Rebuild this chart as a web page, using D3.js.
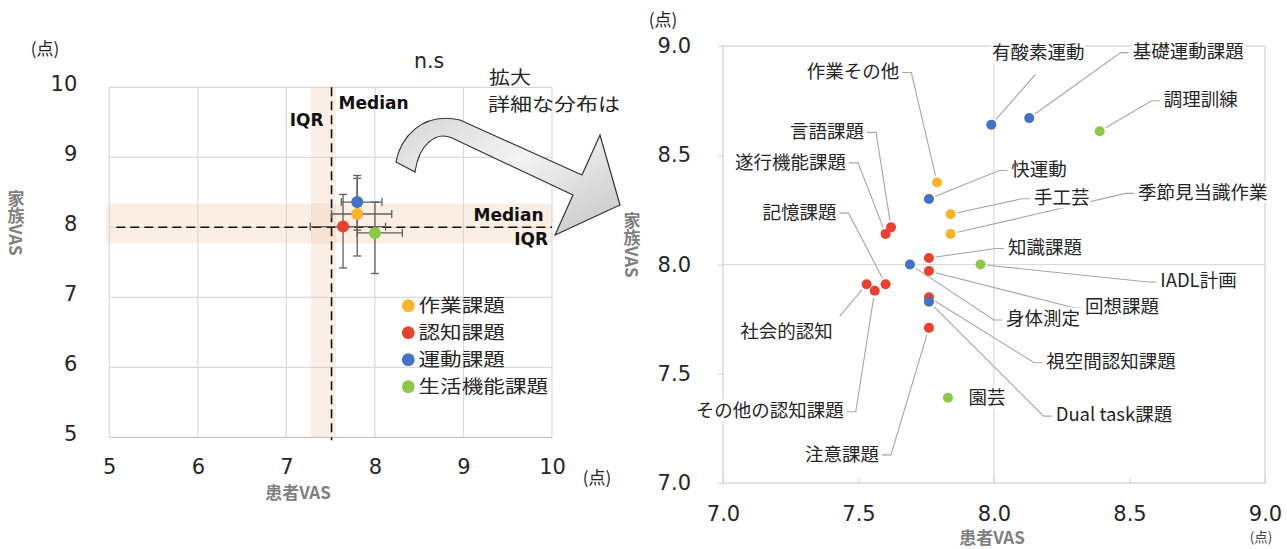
<!DOCTYPE html>
<html>
<head>
<meta charset="utf-8">
<script src="https://cdn.jsdelivr.net/npm/d3@7"></script>
<style>
  html, body { margin: 0; padding: 0; background: #fff; }
  svg { display: block; }
</style>
</head>
<body>
<svg id="chart" width="1287" height="549"></svg>
<script>
// ---------- 課題群ごとの平均とばらつき（左の図） ----------
const groupNames = ["作業課題", "認知課題", "運動課題", "生活機能課題"];
const groupPatient = [7.80, 7.64, 7.80, 8.00];
const groupFamily = [8.19, 8.01, 8.36, 7.92];
const groupPatientLow = [7.51, 7.27, 7.62, 7.80];
const groupPatientHigh = [8.19, 8.12, 8.08, 8.31];
const groupFamilyLow = [7.59, 7.42, 7.96, 7.34];
const groupFamilyHigh = [8.70, 8.47, 8.74, 8.36];

const patientMedian = 7.51;
const familyMedian = 8.00;
const patientIQR = [7.28, 7.56];
const familyIQR = [7.77, 8.34];

const leftTicks = [5, 6, 7, 8, 9, 10];

// ---------- 課題ごとの平均（右の拡大図） ----------
const taskNames = [
  "有酸素運動", "基礎運動課題", "調理訓練", "作業その他", "快運動",
  "手工芸", "季節見当識作業", "言語課題", "遂行機能課題", "記憶課題",
  "知識課題", "身体測定", "IADL計画", "回想課題", "社会的認知",
  "その他の認知課題", "視空間認知課題", "Dual task課題", "注意課題", "園芸"
];
// groupNames の添字
const taskGroup = [2, 2, 3, 0, 2, 0, 0, 1, 1, 1, 1, 2, 3, 1, 1, 1, 1, 2, 1, 3];
const taskPatient = [7.99, 8.13, 8.39, 7.79, 7.76, 7.84, 7.84, 7.62, 7.60, 7.60,
                     7.76, 7.69, 7.95, 7.76, 7.53, 7.56, 7.76, 7.76, 7.76, 7.83];
const taskFamily = [8.64, 8.67, 8.61, 8.375, 8.30, 8.23, 8.14, 8.17, 8.14, 7.91,
                    8.03, 8.00, 8.00, 7.97, 7.91, 7.88, 7.85, 7.83, 7.71, 7.39];

const rightTicks = [7.0, 7.5, 8.0, 8.5, 9.0];

// ---------- 見た目の設定 ----------
const groupColors = ["#F9B52A", "#E9412F", "#4472C4", "#8CC845"];

// ラベルの配置（点からのずれ[px]と引き出し線の向き）
const labelLayout = {
  "有酸素運動":       { dx: 47, dy: -72, side: "b" },
  "基礎運動課題":     { dx: 159, dy: -67, side: "l" },
  "調理訓練":         { dx: 101, dy: -32, side: "l" },
  "作業その他":       { dx: -84, dy: -111, side: "r" },
  "快運動":           { dx: 110, dy: -30, side: "l" },
  "手工芸":           { dx: 111, dy: -17, side: "l" },
  "季節見当識作業":   { dx: 252, dy: -42, side: "l" },
  "言語課題":         { dx: -64, dy: -96, side: "r" },
  "遂行機能課題":     { dx: -95, dy: -72, side: "r" },
  "記憶課題":         { dx: -86, dy: -72, side: "r" },
  "知識課題":         { dx: 116, dy: -11, side: "l" },
  "身体測定":         { dx: 133, dy: 54, side: "l" },
  "IADL計画":         { dx: 218, dy: 16, side: "l" },
  "回想課題":         { dx: 193, dy: 35, side: "l" },
  "社会的認知":       { dx: -80, dy: 47, side: "tr" },
  "その他の認知課題": { dx: -105, dy: 120, side: "r" },
  "視空間認知課題":   { dx: 182, dy: 64, side: "l" },
  "Dual task課題":    { dx: 185, dy: 113, side: "l" },
  "注意課題":         { dx: -87, dy: 126, side: "r" },
  "園芸":             { dx: 39, dy: 0, side: "none" }
};

const numFont = "'DejaVu Sans', Verdana, sans-serif";
const jpFont = "'Noto Sans CJK JP', 'Noto Sans', sans-serif";
const textColor = "#262626";
const titleColor = "#808080";
const gridColor = "#d9d9d9";
const tickFontSize = 21;

const svg = d3.select("#chart");

// 縦書きの軸タイトル（漢字は正立、英字は回転）
function verticalTitle(g, x, yTop, txt, size) {
  g.append("text")
    .attr("x", x).attr("y", yTop)
    .attr("text-anchor", "start")
    .style("writing-mode", "vertical-rl")
    .style("text-orientation", "mixed")
    .attr("font-family", jpFont).attr("font-weight", "bold")
    .attr("font-size", size).attr("fill", titleColor)
    .text(txt);
}

// 横幅を指定した日本語テキスト（字形を横に伸ばす）
function wideText(g, x, y, txt, size, perChar) {
  return g.append("text").attr("x", x).attr("y", y)
    .attr("font-family", jpFont).attr("font-size", size).attr("fill", textColor)
    .attr("textLength", perChar * txt.length).attr("lengthAdjust", "spacingAndGlyphs")
    .text(txt);
}

// ================= 左：課題群の散布図 =================
const xL = d3.scaleLinear().domain([5, 10]).range([109.3, 552]);
const yL = d3.scaleLinear().domain([5, 10]).range([437.3, 87.3]);
const gL = svg.append("g");

// グリッド
gL.append("g").selectAll("line").data(leftTicks).join("line")
  .attr("x1", d => xL(d)).attr("x2", d => xL(d))
  .attr("y1", yL(10)).attr("y2", yL(5))
  .attr("stroke", gridColor).attr("stroke-width", 1.2);
gL.append("g").selectAll("line").data(leftTicks).join("line")
  .attr("x1", xL(5)).attr("x2", xL(10))
  .attr("y1", d => yL(d)).attr("y2", d => yL(d))
  .attr("stroke", d => d === 5 ? "#c8c8c8" : gridColor).attr("stroke-width", 1.2);

// IQR の帯
const bandFill = "rgb(240,205,180)";
gL.append("rect")
  .attr("x", xL(patientIQR[0])).attr("width", xL(patientIQR[1]) - xL(patientIQR[0]))
  .attr("y", yL(10)).attr("height", yL(5) - yL(10))
  .attr("fill", bandFill).attr("fill-opacity", 0.35);
gL.append("rect")
  .attr("x", xL(5) - 3).attr("width", xL(10) - xL(5) + 3)
  .attr("y", yL(familyIQR[1])).attr("height", yL(familyIQR[0]) - yL(familyIQR[1]))
  .attr("fill", bandFill).attr("fill-opacity", 0.35);

// 中央値の破線
gL.append("line")
  .attr("x1", xL(5) + 7).attr("x2", xL(10))
  .attr("y1", yL(familyMedian)).attr("y2", yL(familyMedian))
  .attr("stroke", "#111").attr("stroke-width", 1.6).attr("stroke-dasharray", "9,5");
gL.append("line")
  .attr("x1", xL(patientMedian)).attr("x2", xL(patientMedian))
  .attr("y1", yL(10)).attr("y2", yL(5) + 3)
  .attr("stroke", "#111").attr("stroke-width", 1.6).attr("stroke-dasharray", "9,5");

// 誤差線
const errColor = "#5f5f5f";
const cap = 4;
const gErr = gL.append("g").attr("stroke", errColor).attr("stroke-width", 1.3);
groupNames.forEach((name, i) => {
  const cx = xL(groupPatient[i]), cy = yL(groupFamily[i]);
  const x0 = xL(groupPatientLow[i]), x1 = xL(groupPatientHigh[i]);
  const y0 = yL(groupFamilyLow[i]), y1 = yL(groupFamilyHigh[i]);
  gErr.append("line").attr("x1", x0).attr("x2", x1).attr("y1", cy).attr("y2", cy);
  gErr.append("line").attr("x1", x0).attr("x2", x0).attr("y1", cy - cap).attr("y2", cy + cap);
  gErr.append("line").attr("x1", x1).attr("x2", x1).attr("y1", cy - cap).attr("y2", cy + cap);
  gErr.append("line").attr("x1", cx).attr("x2", cx).attr("y1", y0).attr("y2", y1);
  gErr.append("line").attr("x1", cx - cap).attr("x2", cx + cap).attr("y1", y0).attr("y2", y0);
  gErr.append("line").attr("x1", cx - cap).attr("x2", cx + cap).attr("y1", y1).attr("y2", y1);
});

// 平均点（運動課題は最前面）
const drawOrder = [0, 1, 3, 2];
gL.append("g").selectAll("circle").data(drawOrder).join("circle")
  .attr("cx", i => xL(groupPatient[i])).attr("cy", i => yL(groupFamily[i]))
  .attr("r", 6).attr("fill", i => groupColors[i]);

// 軸の目盛ラベル
const axLY = gL.append("g").attr("transform", `translate(${xL(5)},0)`)
  .call(d3.axisLeft(yL).tickValues(leftTicks).tickSize(0).tickPadding(32).tickFormat(d3.format("d")));
const axLX = gL.append("g").attr("transform", `translate(0,${yL(5)})`)
  .call(d3.axisBottom(xL).tickValues(leftTicks).tickSize(0).tickPadding(22).tickFormat(d3.format("d")));
[axLY, axLX].forEach(ax => {
  ax.select(".domain").remove();
  ax.selectAll("text").attr("font-family", numFont).attr("font-size", tickFontSize).attr("fill", textColor);
});
axLY.selectAll("text").attr("y", -3.5);

// 単位・軸タイトル
gL.append("text").attr("x", 45).attr("y", 49).attr("dy", "0.36em")
  .attr("text-anchor", "middle").attr("font-family", jpFont).attr("font-size", 17)
  .attr("fill", textColor).text("(点)");
gL.append("text").attr("x", 597).attr("y", 478).attr("dy", "0.36em")
  .attr("text-anchor", "middle").attr("font-family", jpFont).attr("font-size", 17)
  .attr("fill", textColor).text("(点)");
gL.append("text").attr("x", 298).attr("y", 493).attr("dy", "0.36em")
  .attr("text-anchor", "middle").attr("font-family", jpFont).attr("font-weight", "bold")
  .attr("font-size", 17).attr("fill", titleColor).text("患者VAS");
verticalTitle(gL, 16, 190, "家族VAS", 17);

// Median / IQR の注記
function note(x, y, anchor, txt) {
  gL.append("text").attr("x", x).attr("y", y).attr("text-anchor", anchor)
    .attr("font-family", numFont).attr("font-weight", "bold")
    .attr("font-size", 17).attr("fill", "#111").text(txt);
}
note(xL(patientMedian) + 7, 109, "start", "Median");
note(xL(patientMedian) - 8, 125.5, "end", "IQR");
note(xL(10) - 8.5, yL(familyMedian) - 6, "end", "Median");
note(xL(10) - 4, yL(familyMedian) + 17.5, "end", "IQR");

// 検定結果
gL.append("text").attr("x", 429).attr("y", 68).attr("text-anchor", "middle")
  .attr("font-family", numFont).attr("font-size", 20.5).attr("fill", textColor).text("n.s");

// 凡例
const legend = gL.append("g");
groupNames.forEach((name, i) => {
  const y = 305.7 + i * 27;
  legend.append("circle").attr("cx", 408.3).attr("cy", y).attr("r", 6.4).attr("fill", groupColors[i]);
  wideText(legend, 418.5, y, name, 18.5, 21.6).attr("dy", "0.36em");
});

// ================= 拡大を示す矢印 =================
const defs = svg.append("defs");
const grad = defs.append("linearGradient").attr("id", "arrowFill")
  .attr("x1", "0%").attr("y1", "0%").attr("x2", "100%").attr("y2", "100%");
grad.append("stop").attr("offset", "0%").attr("stop-color", "#d6d6d6");
grad.append("stop").attr("offset", "45%").attr("stop-color", "#f3f3f3");
grad.append("stop").attr("offset", "100%").attr("stop-color", "#c4c4c4");

svg.append("path")
  .attr("d", "M396,162 C400,140 420,111 460,120 L582,175 L600,135 L620,205 L555,235 L573,195 L452,138 C436,131 419,144 415,172 Z")
  .attr("fill", "url(#arrowFill)").attr("stroke", "#333").attr("stroke-width", 1.2)
  .attr("stroke-linejoin", "miter");

wideText(svg, 489, 78, "拡大", 17.8, 21).attr("dy", "0.36em");
wideText(svg, 488, 104.5, "詳細な分布は", 17.8, 22).attr("dy", "0.36em");

// ================= 右：課題ごとの散布図 =================
const xR = d3.scaleLinear().domain([7, 9]).range([723, 1265]);
const yR = d3.scaleLinear().domain([7, 9]).range([483, 46]);
const gR = svg.append("g");

// 枠と 8.0 のグリッド
gR.append("rect").attr("x", xR(7)).attr("y", yR(9))
  .attr("width", xR(9) - xR(7)).attr("height", yR(7) - yR(9))
  .attr("fill", "none").attr("stroke", "#cfcfcf").attr("stroke-width", 1.2);
gR.append("line").attr("x1", xR(8)).attr("x2", xR(8)).attr("y1", yR(9)).attr("y2", yR(7))
  .attr("stroke", gridColor).attr("stroke-width", 1.2);
gR.append("line").attr("x1", xR(7)).attr("x2", xR(9)).attr("y1", yR(8)).attr("y2", yR(8))
  .attr("stroke", gridColor).attr("stroke-width", 1.2);

const axRY = gR.append("g").attr("transform", `translate(${xR(7)},0)`)
  .call(d3.axisLeft(yR).tickValues(rightTicks).tickSizeInner(5).tickSizeOuter(0)
    .tickPadding(27).tickFormat(d3.format(".1f")));
const axRX = gR.append("g").attr("transform", `translate(0,${yR(7)})`)
  .call(d3.axisBottom(xR).tickValues(rightTicks).tickSizeInner(-5).tickSizeOuter(0)
    .tickPadding(23).tickFormat(d3.format(".1f")));
[axRY, axRX].forEach(ax => {
  ax.select(".domain").remove();
  ax.selectAll("line").attr("stroke", "#cfcfcf");
  ax.selectAll("text").attr("font-family", numFont).attr("font-size", tickFontSize).attr("fill", textColor);
});

gR.append("text").attr("x", 663).attr("y", 20).attr("dy", "0.36em")
  .attr("text-anchor", "middle").attr("font-family", jpFont).attr("font-size", 17)
  .attr("fill", textColor).text("(点)");
gR.append("text").attr("x", 1261).attr("y", 537).attr("dy", "0.36em")
  .attr("text-anchor", "middle").attr("font-family", jpFont).attr("font-size", 13.5)
  .attr("fill", "#444").text("(点)");
gR.append("text").attr("x", 992).attr("y", 538).attr("dy", "0.36em")
  .attr("text-anchor", "middle").attr("font-family", jpFont).attr("font-weight", "bold")
  .attr("font-size", 17).attr("fill", titleColor).text("患者VAS");
verticalTitle(gR, 632, 212, "家族VAS", 17);

// データラベル・引き出し線・点
const gLead = gR.append("g").attr("fill", "none").attr("stroke", "#a6a6a6").attr("stroke-width", 1.1);
const gLab = gR.append("g");
const gPts = gR.append("g");
const ptR = 5;

taskNames.forEach((name, i) => {
  const px = xR(taskPatient[i]), py = yR(taskFamily[i]);
  const lay = labelLayout[name];
  const cx = px + lay.dx, cy = py + lay.dy;

  const bg = gLab.append("rect").attr("fill", "#fff");
  const t = gLab.append("text").attr("x", cx).attr("y", cy).attr("dy", "0.36em")
    .attr("text-anchor", "middle").attr("font-family", jpFont).attr("font-size", 18.5)
    .attr("fill", textColor).text(name);
  const w = t.node().getComputedTextLength();
  bg.attr("x", cx - w / 2 - 1).attr("y", cy - 11).attr("width", w + 2).attr("height", 22);

  let pts = null;
  if (lay.side === "l") {
    const ax = cx - w / 2 - 4, ay = cy + 1.5;
    pts = [[ax, ay], [ax - 8, ay]];
  } else if (lay.side === "r") {
    const ax = cx + w / 2 + 3, ay = cy + 1;
    pts = [[ax, ay], [ax + 9, ay]];
  } else if (lay.side === "b") {
    pts = [[cx - 3, cy + 22]];
  } else if (lay.side === "tr") {
    pts = [[cx + w / 2 + 7, cy - 15]];
  }
  if (pts) {
    const last = pts[pts.length - 1];
    const ddx = last[0] - px, ddy = last[1] - py;
    const d = Math.hypot(ddx, ddy);
    const k = (ptR + 2) / d;
    pts.push([px + ddx * k, py + ddy * k]);
    gLead.append("path").attr("d", d3.line()(pts));
  }
});

gPts.selectAll("circle").data(d3.range(taskNames.length)).join("circle")
  .attr("cx", i => xR(taskPatient[i])).attr("cy", i => yR(taskFamily[i]))
  .attr("r", ptR).attr("fill", i => groupColors[taskGroup[i]]);
</script>
</body>
</html>
